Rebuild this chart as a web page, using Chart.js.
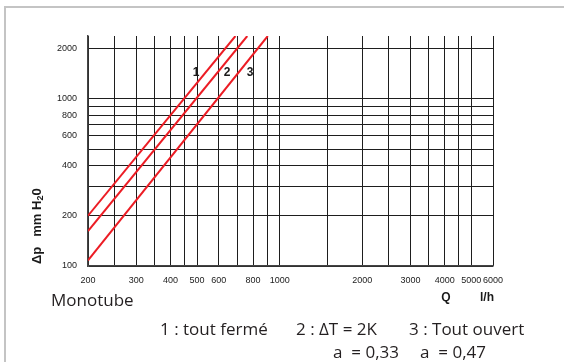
<!DOCTYPE html>
<html>
<head>
<meta charset="utf-8">
<script src="https://cdn.jsdelivr.net/npm/chart.js@4.4.1/dist/chart.umd.min.js"></script>
<style>
  html, body { margin: 0; padding: 0; background: #fff; }
  #wrap { width: 564px; height: 362px; position: relative; }
</style>
</head>
<body>
<div id="wrap"><canvas id="myChart" width="564" height="362"></canvas></div>
<script>
// Axis grid and labels (l/h and mm H2O)
const qTicks = [200, 250, 300, 350, 400, 450, 500, 600, 700, 800, 900, 1000, 1500, 2000, 2500, 3000, 3500, 4000, 4500, 5000, 6000];
const qLabels = [200, 300, 400, 500, 600, 800, 1000, 2000, 3000, 4000, 5000, 6000];
const dpTicks = [100, 200, 300, 400, 500, 600, 700, 800, 900, 1000, 2000];
const dpLabels = [100, 200, 400, 600, 800, 1000, 2000];

// Curves (Q in l/h, dp in mm H2O)
const q1 = [200, 690];
const dp1 = [200, 2380];
const q2 = [200, 762];
const dp2 = [162, 2380];
const q3 = [200, 905];
const dp3 = [108, 2380];

const toPoints = (xs, ys) => xs.map((x, i) => ({ x: x, y: ys[i] }));

// Extra text: frame, titles, legend
const decor = {
    id: 'decor',
    afterDraw(chart) {
        const ctx = chart.ctx;
        ctx.save();
        // light frame on the left / top
        ctx.strokeStyle = '#c4c4c4';
        ctx.lineWidth = 2;
        ctx.beginPath();
        ctx.moveTo(5, 362);
        ctx.lineTo(5, 7);
        ctx.lineTo(564, 7);
        ctx.stroke();

        // curve numbers
        ctx.fillStyle = '#1a1a1a';
        ctx.font = 'bold 12px "Liberation Sans", Arial, sans-serif';
        ctx.textAlign = 'center';
        ctx.textBaseline = 'middle';
        ctx.fillText('1', 196, 73);
        ctx.fillText('2', 227, 73);
        ctx.fillText('3', 250, 73);

        // y axis title (rotated)
        ctx.save();
        ctx.translate(37, 224);
        ctx.rotate(-Math.PI / 2);
        ctx.textAlign = 'left';
        ctx.textBaseline = 'middle';
        ctx.font = 'bold 13px "Liberation Sans", Arial, sans-serif';
        let x0 = -40;
        ctx.fillText('\u0394p', x0, 0);
        x0 += ctx.measureText('\u0394p').width + 10;
        ctx.fillText('mm H', x0, 0);
        x0 += ctx.measureText('mm H').width;
        ctx.font = 'bold 9px "Liberation Sans", Arial, sans-serif';
        ctx.fillText('2', x0, 4);
        x0 += ctx.measureText('2').width;
        ctx.font = 'bold 13px "Liberation Sans", Arial, sans-serif';
        ctx.fillText('0', x0, 0);
        ctx.restore();

        // x axis unit
        ctx.font = 'bold 12px "Liberation Sans", Arial, sans-serif';
        ctx.textAlign = 'center';
        ctx.fillText('Q', 446, 298);
        ctx.fillText('l/h', 487, 298);

        // bottom texts
        ctx.fillStyle = '#231f20';
        ctx.font = '17px "Open Sans", "Noto Sans", sans-serif';
        ctx.textAlign = 'left';
        ctx.fillText('Monotube', 51, 301);
        ctx.fillText('1 : tout ferm\u00e9', 160, 330);
        ctx.fillText('2 : \u0394T = 2K', 296, 330);
        ctx.fillText('3 : Tout ouvert', 409, 330);
        ctx.fillText('a  = 0,33', 333, 353);
        ctx.fillText('a  = 0,47', 420, 353);
        ctx.restore();
    }
};

const lineStyle = { borderColor: '#ec1c24', borderWidth: 2, pointRadius: 0, fill: false, tension: 0 };

const ctx = document.getElementById('myChart').getContext('2d');
const myChart = new Chart(ctx, {
    type: 'line',
    data: {
        datasets: [
            Object.assign({ label: '1 : tout ferm\u00e9', data: toPoints(q1, dp1) }, lineStyle),
            Object.assign({ label: '2 : \u0394T = 2K', data: toPoints(q2, dp2) }, lineStyle),
            Object.assign({ label: '3 : Tout ouvert', data: toPoints(q3, dp3) }, lineStyle)
        ]
    },
    options: {
        responsive: false,
        animation: false,
        layout: { padding: { left: 0, right: 71, top: 36, bottom: 0 } },
        plugins: { legend: { display: false }, tooltip: { enabled: false } },
        scales: {
            x: {
                type: 'logarithmic',
                min: 200,
                max: 6000,
                afterBuildTicks: (axis) => { axis.ticks = qTicks.map(v => ({ value: v })); },
                afterFit: (axis) => { axis.height = 96; },
                ticks: {
                    autoSkip: false,
                    maxRotation: 0,
                    padding: 9,
                    color: '#222',
                    font: { family: '"Liberation Sans", Arial, sans-serif', size: 9 },
                    callback: (v) => qLabels.includes(v) ? String(v) : ''
                },
                grid: { color: '#1e1e1e', lineWidth: 1, drawTicks: false },
                border: { color: '#444', width: 1.5 }
            },
            y: {
                type: 'logarithmic',
                min: 100,
                max: 2380,
                afterBuildTicks: (axis) => { axis.ticks = dpTicks.map(v => ({ value: v })); },
                afterFit: (axis) => { axis.width = 88; },
                ticks: {
                    autoSkip: false,
                    padding: 11,
                    color: '#222',
                    font: { family: '"Liberation Sans", Arial, sans-serif', size: 9 },
                    callback: (v) => dpLabels.includes(v) ? String(v) : ''
                },
                grid: { color: '#1e1e1e', lineWidth: 1, drawTicks: false },
                border: { color: '#444', width: 1.5 }
            }
        }
    },
    plugins: [decor]
});
</script>
</body>
</html>
